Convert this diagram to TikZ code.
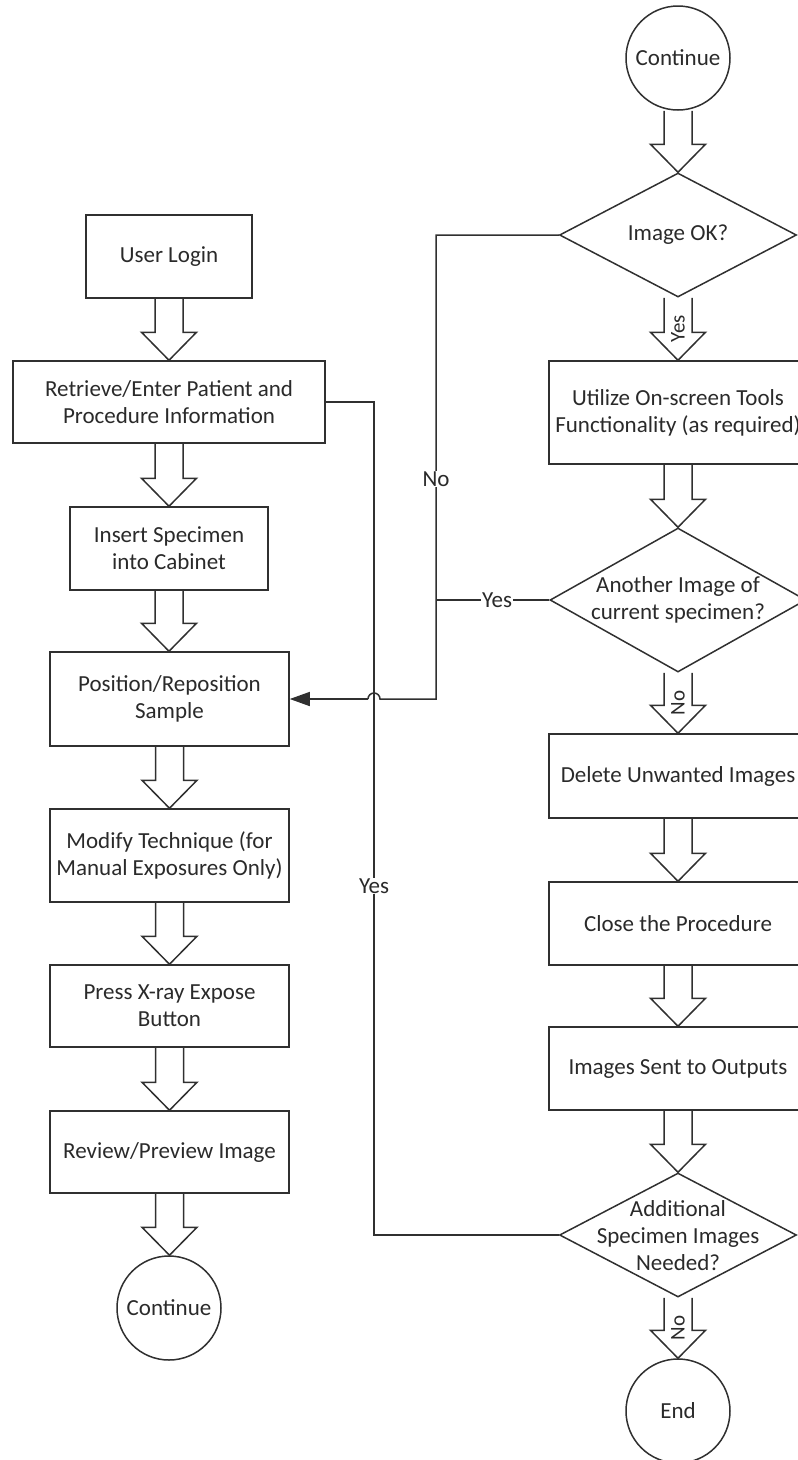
\documentclass[tikz,border=0pt]{standalone}
\usepackage{fontspec}
\setmainfont{Carlito}
\usetikzlibrary{shapes.geometric,arrows.meta,calc}
\definecolor{linec}{HTML}{303030}
\definecolor{txtc}{HTML}{2A2A2A}
\begin{document}
\begin{tikzpicture}[x=1pt,y=-1pt,
  line width=1.5pt,
  every node/.style={font=\fontsize{23}{27}\selectfont, text=txtc},
  box/.style={draw=linec, rectangle, inner sep=0pt, align=center},
  termc/.style={draw=linec, circle, inner sep=0pt, minimum size=104pt},
  dia/.style={draw=linec, diamond, inner sep=0pt},
  dtext/.style={align=center, inner sep=0pt},
  blk/.style={draw=linec, line width=1.5pt, line join=miter},
  conn/.style={draw=linec, line width=1.5pt},
  lbl/.style={fill=white, inner sep=1pt},
  albl/.style={inner sep=0pt, rotate=90}
]
\useasboundingbox (0,0) rectangle (798,1460);
\clip (0,0) rectangle (798,1460);

% left column
\node[box, minimum width=166pt, minimum height=83pt] (login) at (169,256.5) {User Login};
\node[box, minimum width=312pt, minimum height=82pt] (retr) at (169,402) {Retrieve/Enter Patient and\\Procedure Information};
\node[box, minimum width=198pt, minimum height=83pt] (insert) at (169,548.5) {Insert Specimen\\into Cabinet};
\node[box, minimum width=239pt, minimum height=94pt] (pos) at (169.5,699) {Position/Reposition\\Sample};
\node[box, minimum width=239pt, minimum height=93pt] (modify) at (169.5,855.5) {Modify Technique (for\\Manual Exposures Only)};
\node[box, minimum width=239pt, minimum height=82pt] (press) at (169.5,1006) {Press X-ray Expose\\Button};
\node[box, minimum width=239pt, minimum height=82pt] (review) at (169.5,1152) {Review/Preview Image};
\node[termc] (contA) at (169,1308) {Continue};

% right column
\node[termc] (contB) at (678,58) {Continue};
\node[dia, minimum width=237pt, minimum height=124pt] (okq) at (678,235) {};
\node[dtext] (okqt) at (okq.center) {Image OK?};
\node[box, minimum width=258pt, minimum height=103pt] (util) at (678,412.5) {Utilize On-screen Tools\\Functionality (as required)};
\node[dia, minimum width=256pt, minimum height=144pt] (anq) at (678,600) {};
\node[dtext] (anqt) at (anq.center) {Another Image of\\current specimen?};
\node[box, minimum width=258pt, minimum height=84pt] (del) at (678,776) {Delete Unwanted Images};
\node[box, minimum width=258pt, minimum height=83pt] (close) at (678,923.5) {Close the Procedure};
\node[box, minimum width=258pt, minimum height=83pt] (sent) at (678,1068.5) {Images Sent to Outputs};
\node[dia, minimum width=237pt, minimum height=124pt] (addq) at (678,1235) {};
\node[dtext] (addqt) at ($(addq.center)+(0,1)$) {Additional\\Specimen Images\\Needed?};
\node[termc] (endn) at (678,1411) {End};

% block arrows
\foreach \a/\b in {login/retr, retr/insert, insert/pos, pos/modify, modify/press, press/review, review/contA,
                   contB/okq, okq/util, util/anq, anq/del, del/close, close/sent, sent/addq, addq/endn}{
  \draw[blk] let \p1=(\a.south), \p2=(\b.north) in
    (\x1-14pt,\y1) -- (\x1-14pt,\y2+28pt) -- (\x1-27.5pt,\y2+28pt) -- (\x1,\y2)
    -- (\x1+27.5pt,\y2+28pt) -- (\x1+14pt,\y2+28pt) -- (\x1+14pt,\y1);
}
\node[albl, font=\fontsize{21}{25}\selectfont] (yesA) at ($(okq.south)!0.5!(util.north)$) {Yes};
\node[albl, font=\fontsize{21}{25}\selectfont] (noA) at ($(anq.south)!0.5!(del.north)$) {No};
\node[albl, font=\fontsize{21}{25}\selectfont] (noB) at ($(addq.south)!0.5!(endn.north)$) {No};

% connectors
\coordinate (nA) at (436,235);
\coordinate (nB) at (436,699);
\coordinate (hopR) at (380,699);
\coordinate (hopL) at (368,699);
\draw[conn] (okq.west) -- (nA) -- (nB) -- (hopR) arc[start angle=0, end angle=180, radius=6pt] -- (hopL);
\draw[conn, -{Triangle[length=20pt,width=14pt]}] (hopL) -- (pos.east);
\coordinate (yA) at (436,600);
\draw[conn] (anq.west) -- (yA);
\coordinate (yB) at (374,1235);
\coordinate (yC) at (374,402);
\draw[conn] (addq.west) -- (yB) -- (yC) -- (retr.east);

\node[lbl] (noL) at (436,479) {No};
\node[lbl] (yesL1) at (497,600) {Yes};
\node[lbl] (yesL2) at (374,886) {Yes};
\end{tikzpicture}
\end{document}
